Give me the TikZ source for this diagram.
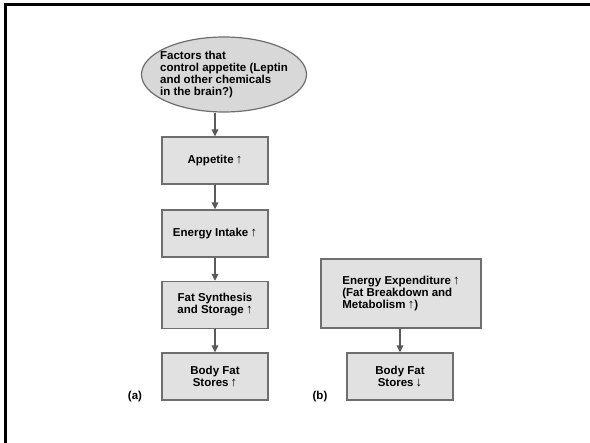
\documentclass[tikz,border=0pt]{standalone}
\usepackage{fontspec}
\setmainfont{Liberation Sans}
\usetikzlibrary{arrows.meta,positioning,shapes.geometric}
\definecolor{boxgray}{HTML}{E1E1E1}
\definecolor{ovalgray}{HTML}{D8D8D8}
\definecolor{edgegray}{HTML}{6E6E6E}
\definecolor{flowgray}{HTML}{5A5A5A}
\newcommand{\upar}{{\mdseries\fontsize{13}{12}\selectfont\,↑}}
\newcommand{\downar}{{\mdseries\fontsize{13}{12}\selectfont\,↓}}

\begin{document}
\begin{tikzpicture}[x=1pt,y=-1pt,
    font=\fontsize{11.5}{12}\selectfont\bfseries,
    stepbox/.style={draw=edgegray,line width=1.2pt,fill=boxgray,
      minimum width=106pt,minimum height=47pt,align=center,inner sep=2pt},
    flow/.style={draw=flowgray,line width=1.8pt,
      -{Triangle[length=7pt,width=6.5pt]}}]
        \useasboundingbox (0,0) rectangle (590,443);
        \draw[line width=3pt] (5,443) -- (5,5) -- (590,5);
        % (a) appetite side
        \node[ellipse,draw=edgegray,line width=1.2pt,fill=ovalgray,
          minimum width=165pt,minimum height=75pt,inner sep=0pt]
          (factors) at (224,74.5) {};
        \node[align=left,inner sep=0pt] (factorsText) at (factors.center)
          {Factors that\\control appetite (Leptin\\and other chemicals\\in the brain?)};
        \node[stepbox] (appetite) at (215,160.5) {Appetite\upar};
        \node[stepbox] (intake) at (215,233.5) {Energy Intake\upar};
        \node[stepbox] (synth) at (215,305) {Fat Synthesis\\and Storage\upar};
        \node[stepbox] (storesA) at (215,376.5) {Body Fat\\Stores\upar};
        \node (labA) at (135,397) {(a)};
        \draw[flow] (factors.south -| appetite) -- (appetite);
        \draw[flow] (appetite) -- (intake);
        \draw[flow] (intake) -- (synth);
        \draw[flow] (synth) -- (storesA);
        % (b) expenditure side
        \node[stepbox,minimum width=160pt,minimum height=69pt,align=left]
          (expend) at (401,293.5) {Energy Expenditure\upar\\(Fat Breakdown and\\Metabolism\upar)};
        \node[stepbox] (storesB) at (400,376.5) {Body Fat\\Stores\downar};
        \node (labB) at (320,397) {(b)};
        \draw[flow] (expend.south -| storesB) -- (storesB);
      \end{tikzpicture}
\end{document}
